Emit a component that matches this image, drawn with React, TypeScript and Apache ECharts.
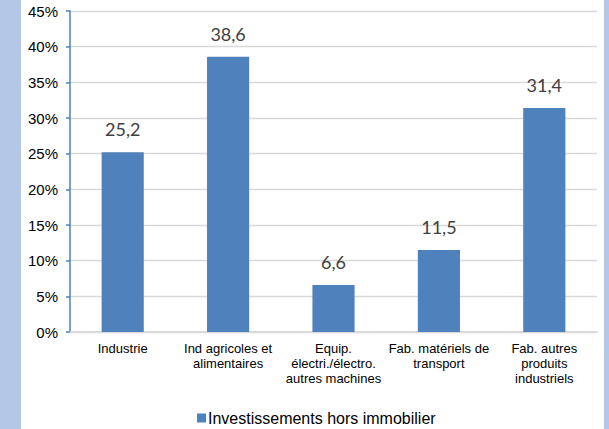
import React, { useEffect, useRef } from "react";
import * as echarts from "echarts";

const categories = [
  "Industrie",
  "Ind agricoles et\nalimentaires",
  "Equip.\nélectri./électro.\nautres machines",
  "Fab. matériels de\ntransport",
  "Fab. autres\nproduits\nindustriels",
];
const seriesName = "Investissements hors immobilier";
const values = [25.2, 38.6, 6.6, 11.5, 31.4];
const yTicks = { min: 0, max: 45, interval: 5 };

export default function App() {
  const ref = useRef<HTMLDivElement>(null);
  useEffect(() => {
    document.body.style.margin = "0";
    const chart = echarts.init(ref.current!, null, { renderer: "svg" });
    chart.setOption({
      animation: false,
      backgroundColor: "#B4C7E7",
      graphic: [
        {
          type: "rect",
          z: -10,
          silent: true,
          shape: { x: 21, y: 0, width: 583, height: 429 },
          style: { fill: "#ffffff" },
        },
      ],
      grid: { left: 70, right: 12, top: 11, bottom: 97 },
      legend: {
        left: 192,
        top: 405,
        itemWidth: 9,
        itemHeight: 9,
        itemGap: 10,
        icon: "rect",
        textStyle: { fontFamily: "Liberation Sans", fontSize: 16, color: "#000", padding: [0, 0, 0, -3] },
        data: [seriesName],
      },
      xAxis: {
        type: "category",
        data: categories,
        axisLine: { show: true, lineStyle: { color: "#D9D9D9", width: 2 } },
        axisTick: { show: false },
        axisLabel: {
          interval: 0,
          margin: 9,
          fontFamily: "Liberation Sans",
          fontSize: 13,
          lineHeight: 15,
          color: "#000",
        },
      },
      yAxis: {
        type: "value",
        min: yTicks.min,
        max: yTicks.max,
        interval: yTicks.interval,
        axisLine: { show: true, lineStyle: { color: "#4F81BD", width: 1.5 } },
        axisTick: { show: true, length: 4, lineStyle: { color: "#4F81BD", width: 1.5 } },
        splitLine: { lineStyle: { color: "#D9D9D9", width: 1.3 } },
        axisLabel: {
          formatter: "{value}%",
          margin: 12,
          fontFamily: "Liberation Sans",
          fontSize: 15,
          color: "#000",
        },
      },
      series: [
        {
          name: seriesName,
          type: "bar",
          data: values,
          barWidth: "40%",
          itemStyle: { color: "#4F81BD" },
          label: {
            show: true,
            position: "top",
            distance: 14,
            fontFamily: "Lato",
            fontSize: 18,
            color: "#404040",
            formatter: (p: any) => String(p.value).replace(".", ","),
          },
        },
      ],
    });
    return () => chart.dispose();
  }, []);
  return <div ref={ref} style={{ width: 609, height: 429 }} />;
}
